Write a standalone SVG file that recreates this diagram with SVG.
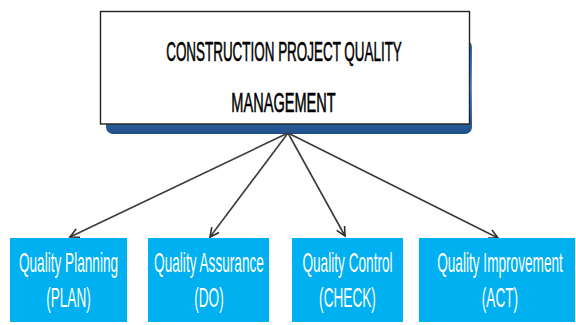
<svg xmlns="http://www.w3.org/2000/svg" width="576" height="325" viewBox="0 0 576 325">
  <defs>
    <linearGradient id="bevel" x1="0" y1="0" x2="0" y2="1">
      <stop offset="0" stop-color="#2a5f9e"/>
      <stop offset="0.5" stop-color="#5592d8"/>
      <stop offset="1" stop-color="#1f4f8a"/>
    </linearGradient>
    <marker id="arrow" markerWidth="12" markerHeight="12" refX="10" refY="6" orient="auto" markerUnits="userSpaceOnUse">
      <path d="M1,1.5 L10,6 L1,10.5" fill="none" stroke="#2e2e2e" stroke-width="1.6"/>
    </marker>
    <style>
      .title { font-family: "Liberation Sans", Arial, sans-serif; font-size: 28px; fill: #000000; stroke: #000000; stroke-width: 0.6; text-anchor: middle; }
      .label { font-family: "Liberation Sans", Arial, sans-serif; font-size: 27px; fill: #ffffff; text-anchor: middle; }
      .phase { fill: #00b0f0; }
      .link { stroke: #3a3a3a; stroke-width: 1.6; fill: none; marker-end: url(#arrow); }
    </style>
  </defs>

  <rect width="576" height="325" fill="#ffffff"/>

  <!-- main heading with blue bevel underneath -->
  <g id="main">
    <rect x="106" y="40" width="366" height="94" rx="7" fill="url(#bevel)"/>
    <rect x="100.5" y="11.5" width="369" height="112.5" fill="#ffffff" stroke="#222222" stroke-width="1.4"/>
    <g transform="translate(284 61) scale(0.48 1)"><text class="title" x="0" y="0">CONSTRUCTION  PROJECT QUALITY</text></g>
    <g transform="translate(283.5 112) scale(0.52 1)"><text class="title" x="0" y="0">MANAGEMENT</text></g>
  </g>

  <!-- connectors -->
  <g id="connectors">
    <line class="link" x1="288" y1="133" x2="70" y2="237"/>
    <line class="link" x1="288" y1="133" x2="210" y2="237"/>
    <line class="link" x1="288" y1="133" x2="345" y2="236"/>
    <line class="link" x1="288" y1="133" x2="498" y2="238"/>
  </g>

  <g id="plan">
    <rect class="phase" x="10" y="238" width="117" height="84"/>
    <g transform="translate(68.5 0) scale(0.505 1)">
      <text class="label" x="0" y="272">Quality Planning</text>
      <text class="label" x="0" y="307">(PLAN)</text>
    </g>
  </g>

  <g id="do">
    <rect class="phase" x="148" y="238" width="121" height="84"/>
    <g transform="translate(209 0) scale(0.505 1)">
      <text class="label" x="0" y="272">Quality Assurance</text>
      <text class="label" x="0" y="307">(DO)</text>
    </g>
  </g>

  <g id="check">
    <rect class="phase" x="292" y="238" width="111" height="84"/>
    <g transform="translate(347.5 0) scale(0.505 1)">
      <text class="label" x="0" y="272">Quality Control</text>
      <text class="label" x="0" y="307">(CHECK)</text>
    </g>
  </g>

  <g id="act">
    <rect class="phase" x="419" y="238" width="156" height="84"/>
    <g transform="translate(500 0) scale(0.505 1)">
      <text class="label" x="0" y="272">Quality Improvement</text>
      <text class="label" x="0" y="307">(ACT)</text>
    </g>
  </g>
</svg>
